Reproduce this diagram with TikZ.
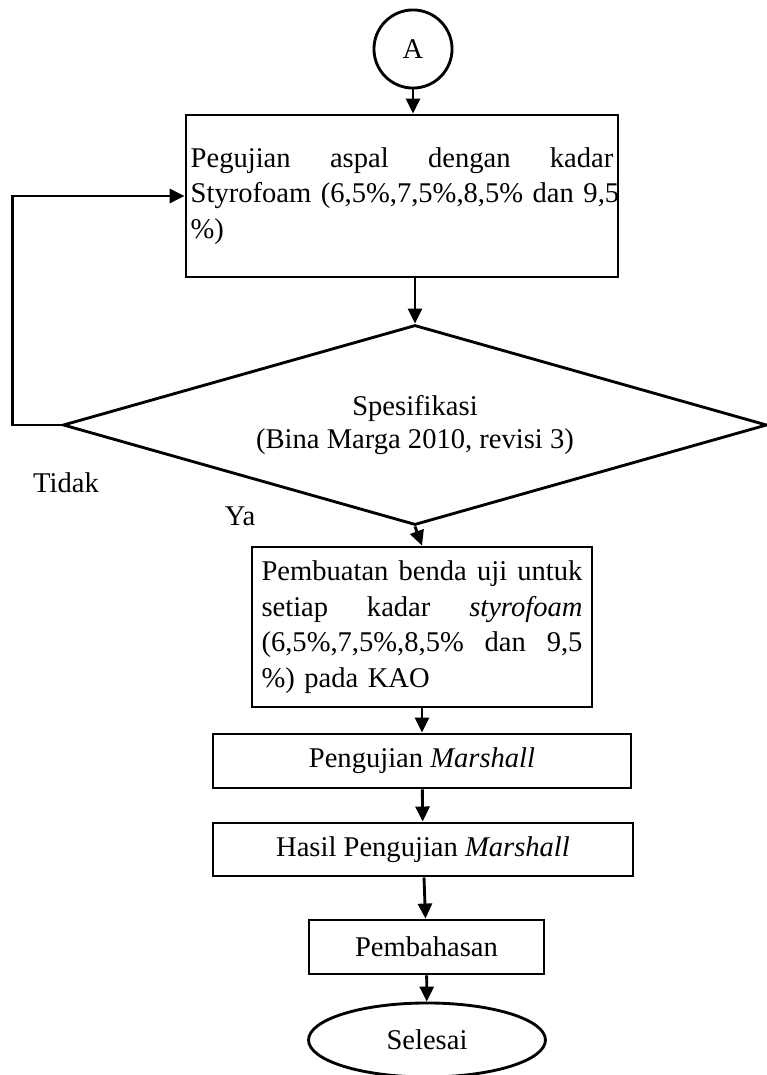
\documentclass[tikz,border=0pt]{standalone}
\usepackage{fontspec}
\setmainfont{Liberation Serif}
\usetikzlibrary{shapes.geometric,arrows.meta}

% one justified line of a box
\newcommand{\jrow}[2]{\hbox to#1{#2}\par}

\tikzset{
  teks/.style={font=\fontsize{12}{15}\selectfont, inner sep=0pt},
  kotak/.style={teks, draw, rectangle},
  awal/.style={teks, draw, circle, minimum size=32.8pt},
  putusan/.style={teks, draw, diamond, aspect=3.52, align=center,
    font=\fontsize{12}{14}\selectfont},
  akhir/.style={teks, draw, ellipse}
}

\begin{document}
\begin{tikzpicture}[x=0.42pt, y=-0.42pt, line width=1.2pt,
    >={Triangle[length=6.3pt,width=5.9pt]}]
  \useasboundingbox (0,0) rectangle (766,1075);

  \node[awal] (A) at (413,49) {A};
  \node[kotak, minimum width=181.4pt, minimum height=68pt, text width=177.5pt] (uji) at (402,196)
    {\noindent\jrow{177.5pt}{Pegujian \hfill aspal \hfill dengan \hfill kadar}\jrow{177.5pt}{Styrofoam \hfill(6,5\%,7,5\%,8,5\% \hfill dan \hfill 9,5}\noindent\%)};
  \node[putusan, minimum width=295.7pt, minimum height=84pt] (spek) at (415,425)
    {Spesifikasi\\(Bina Marga 2010, revisi 3)};
  \node[teks] (tidak) at (66,483) {Tidak};
  \node[teks] (ya) at (240,516) {Ya};
  \node[kotak, minimum width=142.8pt, minimum height=67.2pt, text width=134.8pt] (benda) at (422,627)
    {\noindent\jrow{134.8pt}{Pembuatan \hfill benda \hfill uji \hfill untuk}\jrow{134.8pt}{setiap \hfill kadar \hfill \textit{styrofoam}}\jrow{134.8pt}{(6,5\%,7,5\%,8,5\% \hfill dan \hfill 9,5}\noindent\%) pada KAO};
  \node[kotak, minimum width=175.6pt, minimum height=22.7pt] (marshall) at (422,761)
    {Pengujian \textit{Marshall}};
  \node[kotak, minimum width=176.4pt, minimum height=22.3pt] (hasil) at (423,849.5)
    {Hasil Pengujian \textit{Marshall}};
  \node[kotak, minimum width=98.7pt, minimum height=22.7pt] (bahas) at (426.5,947)
    {Pembahasan};
  \node[akhir, minimum width=99.5pt, minimum height=31.1pt] (selesai) at (427,1040)
    {Selesai};

  \draw[->] (A) -- (A |- uji.north);
  \draw[->] (spek.north |- uji.south) -- (spek.north);
  \draw[->] (spek.west) -- ++(-49,0) |- (uji.west);
  \draw[->] (spek.south) -- (benda.north);
  \draw[->] (benda.south) -- (marshall.north);
  \draw[->] (marshall) -- (hasil);
  \draw[->] (hasil) -- (bahas);
  \draw[->] (bahas) -- (selesai);
\end{tikzpicture}
\end{document}
